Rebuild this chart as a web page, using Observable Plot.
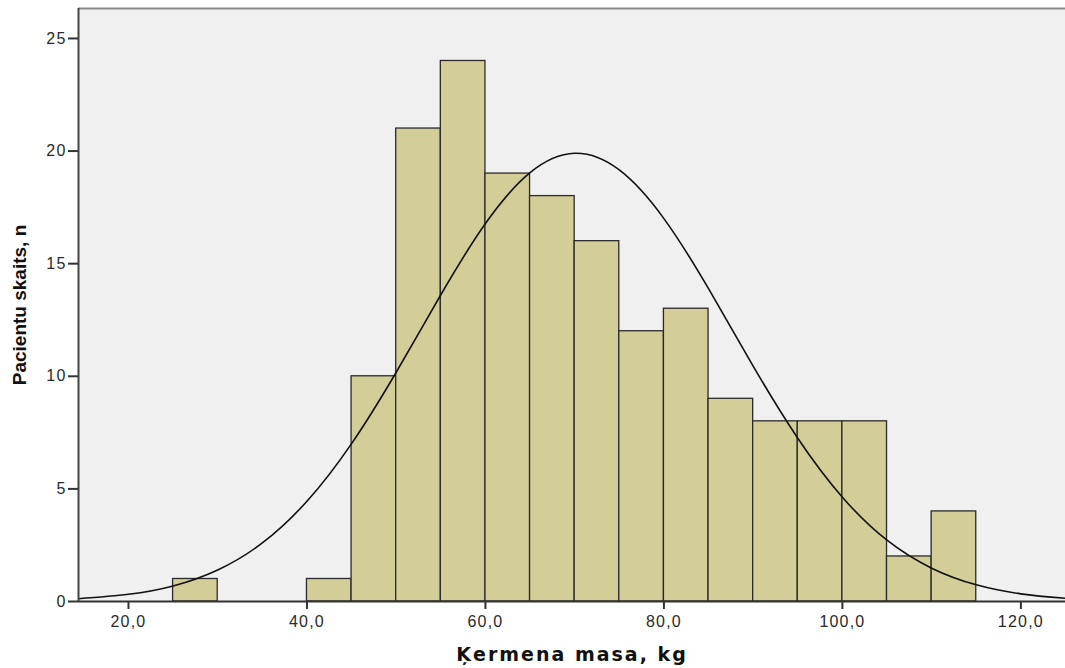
<!DOCTYPE html>
<html>
<head>
<meta charset="utf-8">
<script src="https://cdn.jsdelivr.net/npm/d3@7"></script>
<script src="https://cdn.jsdelivr.net/npm/@observablehq/plot@0.6"></script>
<style>
  html, body { margin: 0; padding: 0; background: #ffffff; }
  #chart svg { display: block; }
  #chart svg g[aria-label="x-axis tick label"] text,
  #chart svg g[aria-label="y-axis tick label"] text { letter-spacing: 1.2px; }
  #chart svg .xlabel text { letter-spacing: 2px; }
</style>
</head>
<body>
<div id="chart"></div>
<script>
// Histogram bins (kg) and counts
const binStart = [25, 40, 45, 50, 55, 60, 65, 70, 75, 80, 85, 90, 95, 100, 105, 110];
const binEnd   = [30, 45, 50, 55, 60, 65, 70, 75, 80, 85, 90, 95, 100, 105, 110, 115];
const counts   = [1, 1, 10, 21, 24, 19, 18, 16, 12, 13, 9, 8, 8, 8, 2, 4];

// Fitted normal curve
const curveX = [14, 20, 25, 30, 35, 40, 45, 50, 55, 60, 65, 70, 75, 80, 85, 90, 95, 100, 105, 110, 115, 120, 125];
const curveY = [0.11, 0.32, 0.69, 1.40, 2.60, 4.45, 7.01, 10.18, 13.62, 16.78, 19.04, 19.9, 19.16, 17.0, 13.89, 10.45, 7.25, 4.63, 2.72, 1.48, 0.74, 0.34, 0.14];

const xTicks = [20, 40, 60, 80, 100, 120];
const yTicks = [0, 5, 10, 15, 20, 25];

const bins = binStart.map((s, i) => ({x1: s, x2: binEnd[i], n: counts[i]}));
const curve = curveX.map((x, i) => ({x, y: curveY[i]}));

const fmt = d => d.toFixed(1).replace(".", ",");

const chart = Plot.plot({
  width: 1065,
  height: 668,
  marginLeft: 78,
  marginTop: 8,
  marginRight: 0,
  marginBottom: 67,
  style: {fontFamily: "Liberation Sans, Arial, sans-serif", fontSize: "16px", color: "#2a2a2a", background: "#ffffff"},
  x: {domain: [14.4, 125], label: null},
  y: {domain: [0, 26.33], label: null},
  marks: [
    Plot.frame({fill: "#f0f0f0", stroke: null}),
    Plot.rectY(bins, {x1: "x1", x2: "x2", y: "n", fill: "#d3ce98", stroke: "#2a2a2a", strokeWidth: 1.3, insetLeft: 0, insetRight: 0}),
    Plot.line(curve, {x: "x", y: "y", curve: "natural", stroke: "#111", strokeWidth: 1.6, clip: true}),
    Plot.ruleY([26.33], {stroke: "#8a8a8a", strokeWidth: 2}),
    Plot.ruleY([0], {stroke: "#333", strokeWidth: 2}),
    Plot.ruleX([14.4], {stroke: "#444", strokeWidth: 2}),
    Plot.axisX({ticks: xTicks, tickFormat: fmt, tickSize: 8, tickPadding: 6, stroke: "#333", strokeWidth: 2, fontSize: 16, label: null}),
    Plot.axisY({ticks: yTicks, tickFormat: d => String(d), tickSize: 10, tickPadding: 2, stroke: "#333", strokeWidth: 2, fontSize: 16, label: null}),
    Plot.text(["Ķermena masa, kg"], {className: "xlabel", frameAnchor: "bottom", lineAnchor: "middle", textAnchor: "middle", dy: 53, fontSize: 19, fontWeight: "bold", fill: "#111", fontFamily: "DejaVu Sans, Verdana, sans-serif"}),
    Plot.text(["Pacientu skaits, n"], {frameAnchor: "left", lineAnchor: "middle", textAnchor: "middle", dx: -59, rotate: -90, fontSize: 19, fontWeight: "bold", fill: "#111", fontFamily: "Liberation Sans, Arial, sans-serif"})
  ]
});
document.getElementById("chart").appendChild(chart);
</script>
</body>
</html>
